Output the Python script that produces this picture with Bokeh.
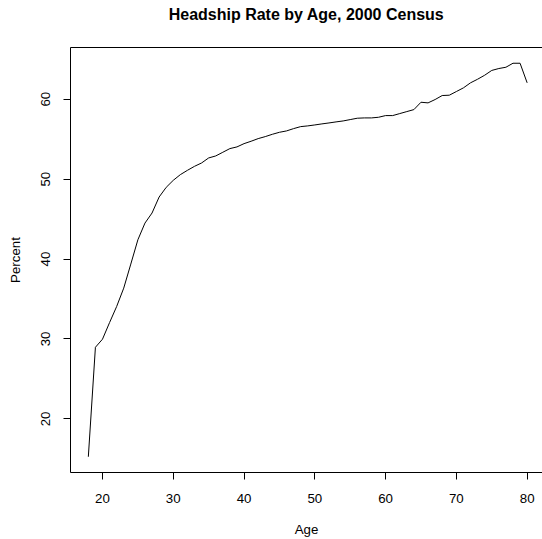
from bokeh.plotting import figure
from bokeh.models import LinearAxis, SingleIntervalTicker, FixedTicker, Range1d
from bokeh.embed import file_html
from bokeh.resources import INLINE

ages = list(range(18, 81))
percent = [15.26, 28.96, 29.97, 32.05, 34.06, 36.36, 39.37, 42.41, 44.5, 45.76,
           47.76, 48.97, 49.85, 50.56, 51.1, 51.6, 52.02, 52.65, 52.9, 53.36,
           53.82, 54.03, 54.44, 54.74, 55.07, 55.32, 55.61, 55.86, 56.03, 56.32,
           56.57, 56.66, 56.78, 56.91, 57.03, 57.16, 57.28, 57.45, 57.62, 57.66,
           57.66, 57.74, 57.95, 57.95, 58.2, 58.45, 58.7, 59.62, 59.54, 59.96,
           60.46, 60.5, 60.96, 61.42, 62.05, 62.5, 63.0, 63.6, 63.84, 64.0,
           64.5, 64.5, 62.05]
title_text = "Headship Rate by Age, 2000 Census"

FONT = "Liberation Sans"
SIZE = "13.3px"

p = figure(width=542, height=539, output_backend="svg", toolbar_location=None,
           x_range=Range1d(15.48, 82.17), y_range=Range1d(13.29, 66.47),
           min_border_left=70, min_border_right=0, min_border_top=47, min_border_bottom=67,
           x_axis_location=None, y_axis_location=None)
p.outline_line_color = None
p.xgrid.visible = False
p.ygrid.visible = False
p.background_fill_color = "white"
p.border_fill_color = "white"

def style_axis(ax, label):
    ax.axis_label = label
    ax.axis_label_text_font = FONT
    ax.axis_label_text_font_size = SIZE
    ax.axis_label_text_font_style = "normal"
    ax.axis_label_text_color = "black"
    ax.major_label_text_font = FONT
    ax.major_label_text_font_size = SIZE
    ax.major_label_text_color = "black"
    ax.axis_line_color = "black"
    ax.axis_line_width = 1
    ax.major_tick_line_color = "black"
    ax.major_tick_out = 7
    ax.major_tick_in = 0
    ax.minor_tick_line_color = None

xa = LinearAxis(ticker=SingleIntervalTicker(interval=10))
style_axis(xa, "Age")
xa.major_label_standoff = 14
xa.axis_label_standoff = 16
p.add_layout(xa, "below")

ya = LinearAxis(ticker=SingleIntervalTicker(interval=10))
style_axis(ya, "Percent")
ya.major_label_orientation = "vertical"
ya.major_label_standoff = 13
ya.axis_label_standoff = 16
p.add_layout(ya, "left")

# top border of the box, carrying the chart title as its label
top = LinearAxis(ticker=FixedTicker(ticks=[]))
top.axis_line_color = "black"
top.major_tick_line_color = None
top.minor_tick_line_color = None
top.major_label_text_font_size = "0px"
top.major_label_standoff = 0
top.major_tick_out = 0
top.major_tick_in = 0
top.axis_label = title_text
top.axis_label_text_font = FONT
top.axis_label_text_font_size = "16px"
top.axis_label_text_font_style = "bold"
top.axis_label_text_color = "black"
top.axis_label_standoff = 25
p.add_layout(top, "above")

p.line(ages, percent, line_color="black", line_width=1)

open("out.html", "w").write(file_html(p, INLINE))
